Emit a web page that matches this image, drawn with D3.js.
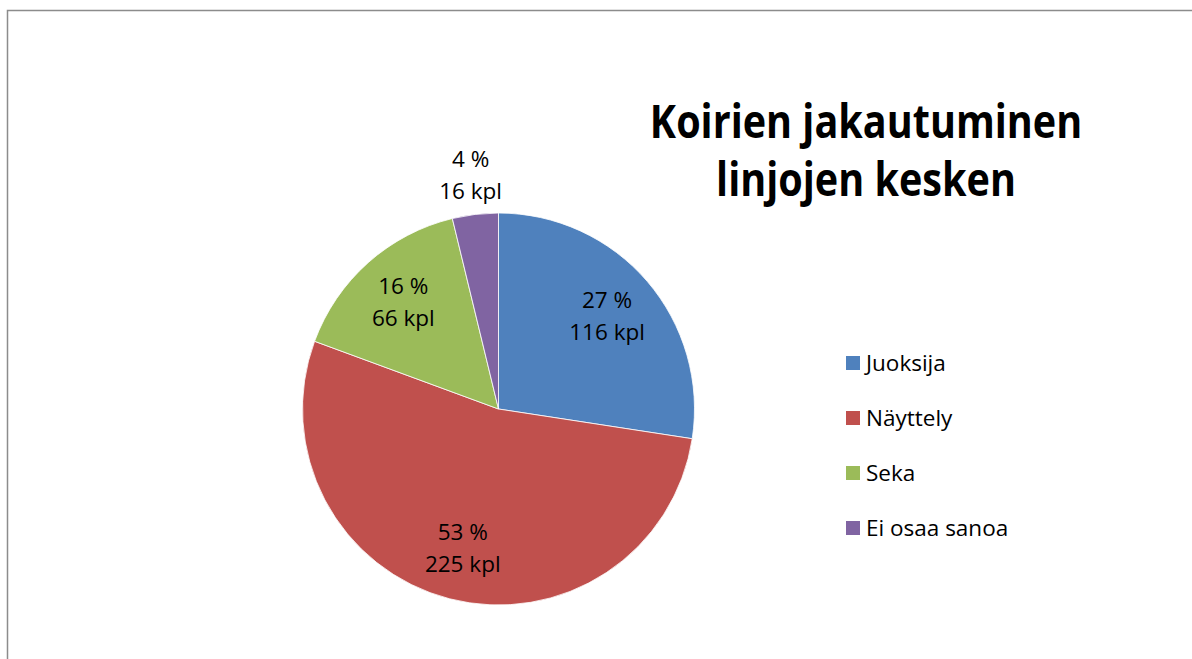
<!DOCTYPE html>
<html>
<head>
<meta charset="utf-8">
<script src="https://cdn.jsdelivr.net/npm/d3@7"></script>
<style>
  body { margin: 0; background: #fff; }
  svg { display: block; font-family: "Open Sans", "Noto Sans", sans-serif; }
</style>
</head>
<body>
<svg id="chart" width="1192" height="659"></svg>
<script>
// data
let categories = ["Juoksija", "Näyttely", "Seka", "Ei osaa sanoa"];
let counts = [116, 225, 66, 16];
let percents = [27, 53, 16, 4];
let colors = ["#4F81BD", "#C0504D", "#9BBB59", "#8064A2"];
let titleLines = ["Koirien jakautuminen", "linjojen kesken"];

let width = 1192, height = 659;
let svg = d3.select("#chart");

// chart frame
svg.append("path")
    .attr("d", "M7.5,659 V10.5 H1192")
    .attr("fill", "none")
    .attr("stroke", "#8c8c8c")
    .attr("stroke-width", 1.5);

let cx = 498.5, cy = 409, radius = 196;

let pie = d3.pie().sort(null).value((d)=>d.count);
let data = categories.map((c, i)=>({name: c, count: counts[i], pct: percents[i], color: colors[i]}));
let arcs = pie(data);

let arc = d3.arc().innerRadius(0).outerRadius(radius);
let labelArc = d3.arc().innerRadius(radius * 0.73).outerRadius(radius * 0.73);
let outerLabelArc = d3.arc().innerRadius(radius * 1.2).outerRadius(radius * 1.2);

let g = svg.append("g").attr("transform", `translate(${cx},${cy})`);

g.selectAll("path.slice")
    .data(arcs)
    .enter().append("path")
    .attr("class", "slice")
    .attr("d", arc)
    .attr("fill", (d)=>d.data.color)
    .attr("stroke", "#fff")
    .attr("stroke-width", 0.8);

// data labels, small slice goes outside
let label = g.selectAll("text.label")
    .data(arcs)
    .enter().append("text")
    .attr("class", "label")
    .attr("transform", (d)=>{
        let small = (d.endAngle - d.startAngle) < 0.4;
        let p = (small ? outerLabelArc : labelArc).centroid(d);
        return `translate(${p[0]},${p[1]})`;
    })
    .attr("text-anchor", "middle")
    .attr("font-size", 22.5)
    .attr("fill", "#000");

label.append("tspan")
    .attr("x", 0)
    .attr("y", -8)
    .text((d)=>d.data.pct + " %");
label.append("tspan")
    .attr("x", 0)
    .attr("y", 24)
    .text((d)=>d.data.count + " kpl");

// title (Calibri is narrower, so squeeze a bit)
svg.append("g")
    .attr("transform", "translate(866,0) scale(0.86,1)")
    .append("text")
    .attr("text-anchor", "middle")
    .attr("font-size", 46)
    .attr("font-weight", "bold")
    .selectAll("tspan")
    .data(titleLines)
    .enter().append("tspan")
    .attr("x", 0)
    .attr("y", (d, i)=>138 + i * 58)
    .text((d)=>d);

// legend
let legendY = d3.scalePoint().domain(categories).range([371, 536]);

let legend = svg.append("g").selectAll("g")
    .data(data)
    .enter().append("g")
    .attr("transform", (d)=>`translate(846,${legendY(d.name)})`);

legend.append("rect")
    .attr("x", 0)
    .attr("y", -15)
    .attr("width", 14)
    .attr("height", 14)
    .attr("fill", (d)=>d.color);

legend.append("text")
    .attr("x", 20)
    .attr("y", 0)
    .attr("font-size", 22.5)
    .text((d)=>d.name);
</script>
</body>
</html>
